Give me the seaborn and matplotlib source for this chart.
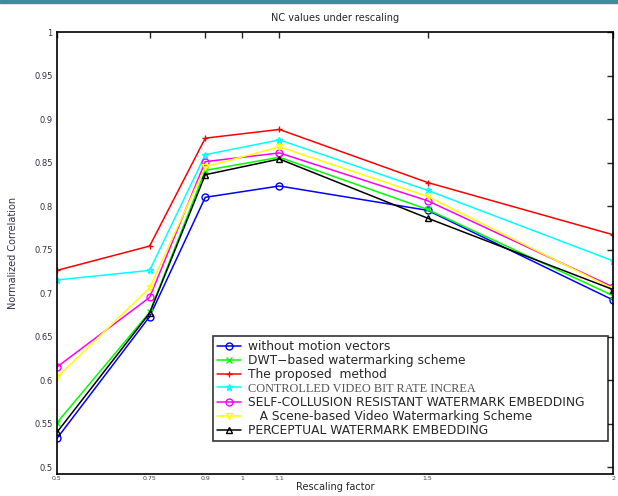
import numpy as np
import pandas as pd
import matplotlib
matplotlib.use("Agg")
import matplotlib.pyplot as plt
import seaborn as sns
from matplotlib.patches import Rectangle

# ---- data ----
rescale = [0.5, 0.75, 0.9, 1.1, 1.5, 2.0]
x_ticks = [0.5, 0.75, 0.9, 1.0, 1.1, 1.5, 2.0]
x_tick_labels = ["0.5", "0.75", "0.9", "1", "1.1", "1.5", "2"]
y_ticks = [0.5, 0.55, 0.6, 0.65, 0.7, 0.75, 0.8, 0.85, 0.9, 0.95, 1.0]
y_tick_labels = ["0.5", "0.55", "0.6", "0.65", "0.7", "0.75", "0.8", "0.85", "0.9", "0.95", "1"]

without_motion = [0.533, 0.673, 0.810, 0.823, 0.795, 0.692]
dwt_based = [0.551, 0.678, 0.841, 0.856, 0.796, 0.697]
proposed = [0.726, 0.754, 0.878, 0.888, 0.827, 0.767]
controlled_bitrate = [0.715, 0.726, 0.859, 0.876, 0.818, 0.737]
self_collusion = [0.615, 0.695, 0.851, 0.861, 0.806, 0.707]
scene_based = [0.603, 0.706, 0.845, 0.868, 0.811, 0.705]
perceptual = [0.540, 0.677, 0.836, 0.854, 0.786, 0.704]

series_names = [
    "without motion vectors",
    "DWT\u2212based watermarking scheme",
    "The proposed  method",
    "CONTROLLED VIDEO BIT RATE INCREA",
    "SELF-COLLUSION RESISTANT WATERMARK EMBEDDING",
    "   A Scene-based Video Watermarking Scheme",
    "PERCEPTUAL WATERMARK EMBEDDING",
]
series_values = [without_motion, dwt_based, proposed, controlled_bitrate,
                 self_collusion, scene_based, perceptual]
colors = ["#0000ff", "#00ff00", "#ff0000", "#00ffff", "#ff00ff", "#ffff00", "#000000"]
markers = ["o", "x", "+", "*", "o", "v", "^"]

sns.set_style("white")
plt.rcParams["font.family"] = ["DejaVu Sans"]

fig = plt.figure(figsize=(6.18, 4.96), dpi=100)
ax = fig.add_axes([57 / 618, 1 - 474 / 496, (613 - 57) / 618, (474 - 32) / 496])

for name, vals, col, mk in zip(series_names, series_values, colors, markers):
    d = pd.DataFrame({"factor": rescale, "nc": vals})
    sns.lineplot(data=d, x="factor", y="nc", color=col, marker=mk,
                 markersize=5, markeredgewidth=1.0, markerfacecolor="none",
                 markeredgecolor=col, linewidth=1.1, label=name, ax=ax)

ax.set_xlim(0.5, 2.0)
ax.set_ylim(0.492, 1.0)
ax.set_xticks(x_ticks)
ax.set_xticklabels(x_tick_labels, fontsize=4.5, color="#444444")
ax.set_yticks(y_ticks)
ax.set_yticklabels(y_tick_labels, fontsize=6, color="#333344")
ax.tick_params(direction="in", length=4, width=1, top=True, right=True, pad=3)
ax.tick_params(axis="x", pad=1.5)
for s in ax.spines.values():
    s.set_visible(True)
    s.set_color("black")
    s.set_linewidth(1.2)

ax.set_title("NC values under rescaling", fontsize=7, pad=8)
ax.set_xlabel("Rescaling factor", fontsize=7, labelpad=1)
ax.set_ylabel("Normalized Correlation", fontsize=7, color="#333344", labelpad=12)

handles, labels = ax.get_legend_handles_labels()
leg = ax.legend(handles, labels, loc="lower left",
                bbox_to_anchor=((213 - 57) / 556, (474 - 441) / 442,
                                (608 - 213) / 556, (441 - 337) / 442),
                mode="expand", fontsize=8.8, frameon=True, fancybox=False,
                edgecolor="black", handlelength=2.0, handletextpad=0.6,
                labelspacing=0.1, borderpad=0.3, borderaxespad=0.0)
leg.get_frame().set_linewidth(1.2)
for t in leg.get_texts():
    if t.get_text().startswith("CONTROLLED"):
        t.set_family(["Liberation Serif", "DejaVu Serif"])
        t.set_color("#555555")

# slide border band at top
fig.patches.append(Rectangle((0, 1 - 3 / 496), 1, 3 / 496, transform=fig.transFigure,
                             color="#3b8c9c", zorder=10))

fig.savefig("out.png", dpi=100)
